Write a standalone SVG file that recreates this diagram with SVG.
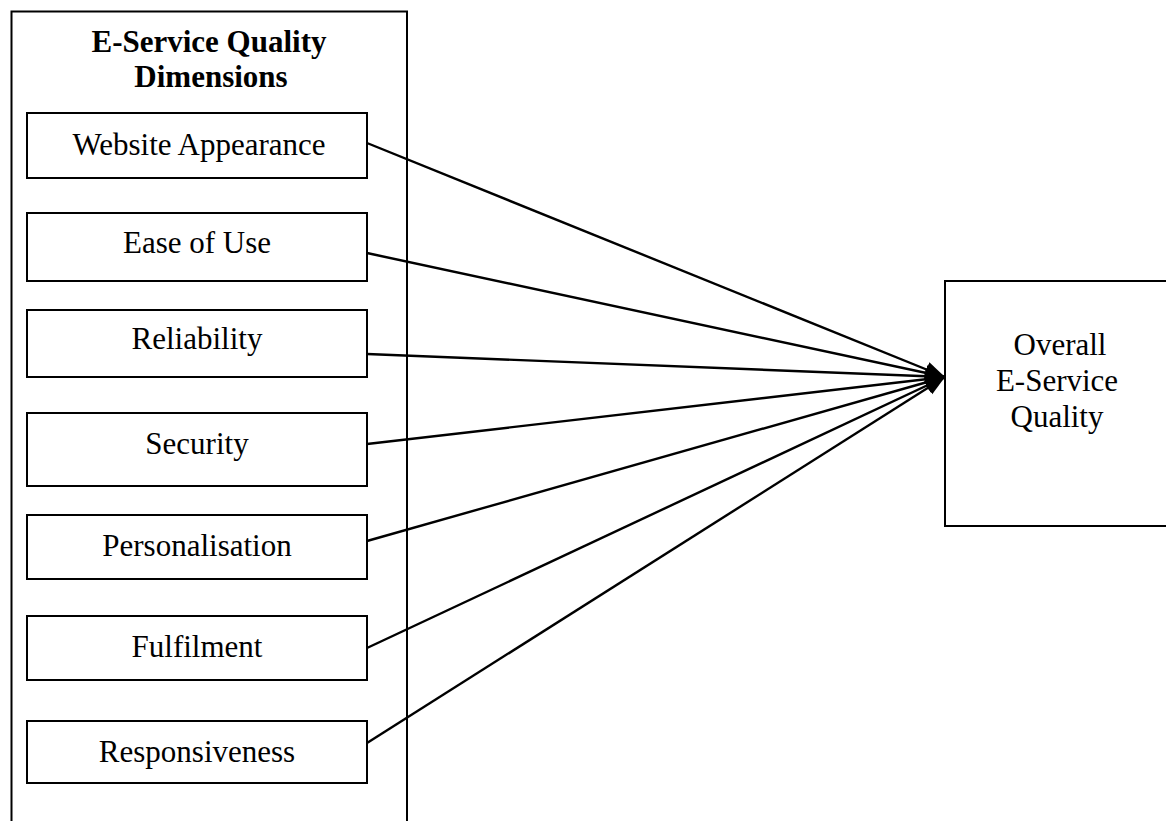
<svg xmlns="http://www.w3.org/2000/svg" width="1166" height="821" viewBox="0 0 1166 821">
<style>
.box{fill:#fff;stroke:#000;stroke-width:2}
.t{font-family:"Liberation Serif","Times New Roman",serif;font-size:31px;fill:#000;text-anchor:middle}
.b{font-weight:bold}
.c{stroke:#000;stroke-width:2.4;fill:none;marker-end:url(#ah)}
</style>
<defs>
<marker id="ah" markerUnits="userSpaceOnUse" markerWidth="20" markerHeight="20" viewBox="0 0 18 14" refX="18" refY="7" orient="auto">
<path d="M0,0 L18,7 L0,14 z" fill="#000"/>
</marker>
</defs>
<g id="container">
<rect class="box" x="11.5" y="11.5" width="395.5" height="830"/>
<text class="t b" x="209" y="52">E-Service Quality</text>
<text class="t b" x="211" y="87">Dimensions</text>
</g>
<g id="website-appearance"><rect class="box" x="27" y="113" width="340" height="65"/><text class="t" x="199" y="155">Website Appearance</text></g>
<g id="ease-of-use"><rect class="box" x="27" y="213" width="340" height="68"/><text class="t" x="197" y="253">Ease of Use</text></g>
<g id="reliability"><rect class="box" x="27" y="310" width="340" height="67"/><text class="t" x="197" y="349">Reliability</text></g>
<g id="security"><rect class="box" x="27" y="413" width="340" height="73"/><text class="t" x="197" y="454">Security</text></g>
<g id="personalisation"><rect class="box" x="27" y="515" width="340" height="64"/><text class="t" x="197" y="556">Personalisation</text></g>
<g id="fulfilment"><rect class="box" x="27" y="616" width="340" height="64"/><text class="t" x="197" y="657">Fulfilment</text></g>
<g id="responsiveness"><rect class="box" x="27" y="721" width="340" height="62"/><text class="t" x="197" y="762">Responsiveness</text></g>
<g id="overall">
<rect class="box" x="945" y="281" width="240" height="245"/>
<text class="t" x="1060" y="355">Overall</text>
<text class="t" x="1057" y="391">E-Service</text>
<text class="t" x="1057" y="427">Quality</text>
</g>
<g id="connectors">
<line class="c" x1="367" y1="143" x2="945" y2="377"/>
<line class="c" x1="367" y1="253" x2="945" y2="377"/>
<line class="c" x1="367" y1="354" x2="945" y2="377"/>
<line class="c" x1="367" y1="444" x2="945" y2="377"/>
<line class="c" x1="367" y1="541" x2="945" y2="377"/>
<line class="c" x1="367" y1="648" x2="945" y2="377"/>
<line class="c" x1="367" y1="743" x2="945" y2="377"/>
</g>
</svg>
